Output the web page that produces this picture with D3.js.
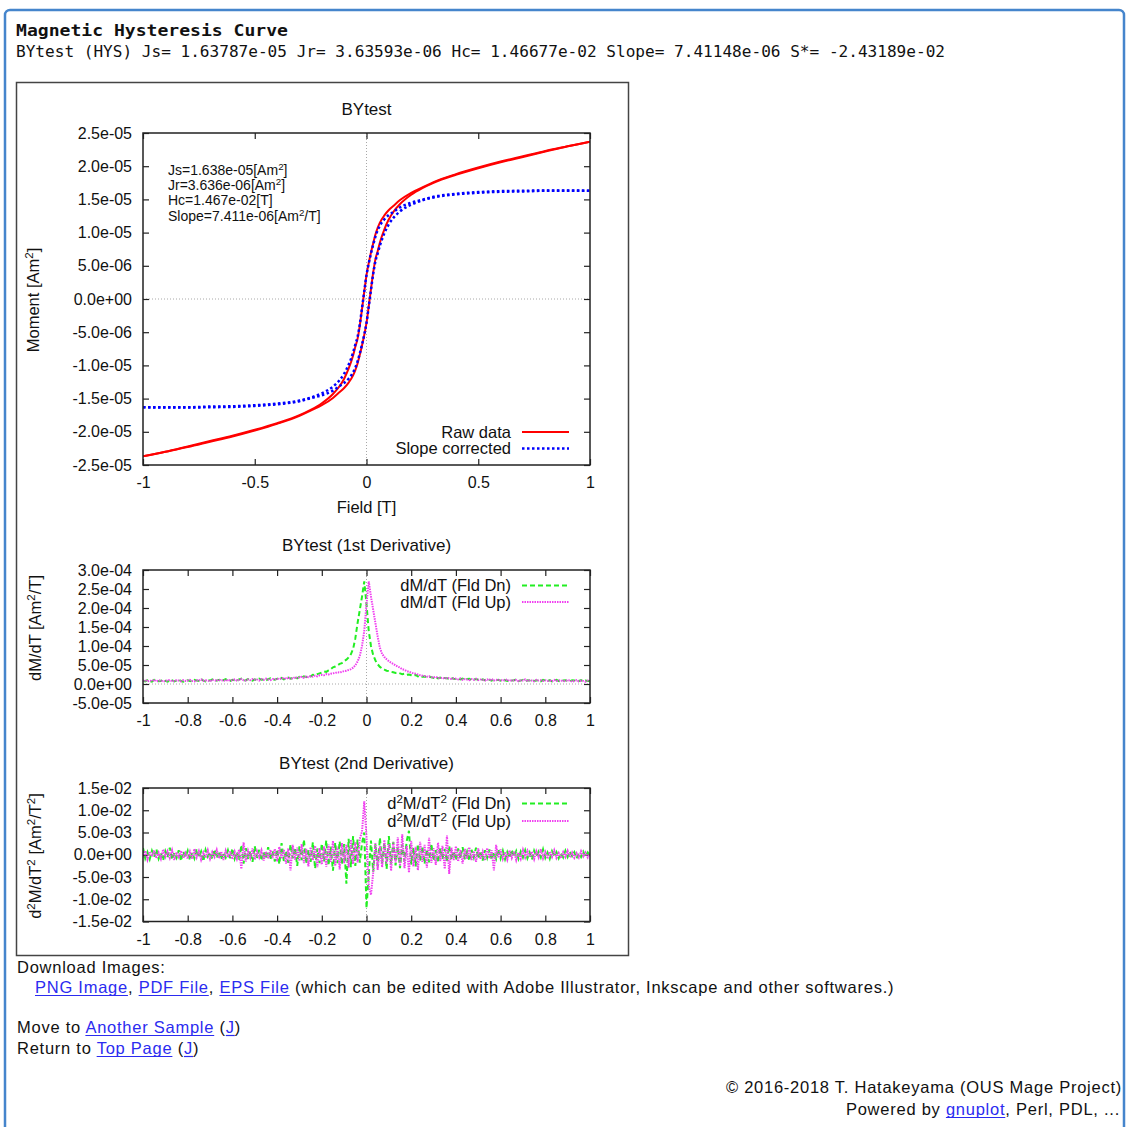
<!DOCTYPE html>
<html>
<head>
<meta charset="utf-8">
<script src="https://cdn.jsdelivr.net/npm/d3@7"></script>
<style>
  html, body { margin: 0; padding: 0; background: #fff; }
  svg { display: block; }
</style>
</head>
<body>
<svg id="page" width="1127" height="1127"></svg>
<script>
// ---------------- data ----------------
// hysteresis loop, field in T, moment in 1e-6 Am^2
const loopField = [-1,-0.9,-0.8,-0.7,-0.6,-0.5,-0.4,-0.3,-0.25,-0.2,-0.15,-0.12,-0.1,-0.08,-0.06,-0.05,-0.04,-0.03,-0.02,-0.01,
  0,0.01,0.02,0.03,0.04,0.05,0.06,0.08,0.1,0.12,0.15,0.2,0.25,0.3,0.4,0.5,0.6,0.7,0.8,0.9,1];
const rawDn = [-23.7,-23.0,-22.2,-21.4,-20.6,-19.7,-18.7,-17.5,-16.7,-15.7,-14.3,-13.1,-12.0,-10.5,-8.5,-7.2,-6.0,-4.0,-1.5,1.1,
  3.6,5.4,7.0,8.4,9.7,10.7,11.5,12.6,13.4,14.0,14.9,16.0,16.8,17.6,18.8,19.8,20.7,21.5,22.3,23.0,23.7];
const rawUp = [-23.7,-23.0,-22.3,-21.5,-20.7,-19.8,-18.8,-17.6,-16.8,-16.0,-14.9,-14.0,-13.4,-12.6,-11.5,-10.7,-9.7,-8.4,-7.0,-5.4,
  -3.6,-1.1,1.5,4.0,6.0,7.2,8.5,10.5,12.0,13.1,14.3,15.7,16.7,17.5,18.7,19.7,20.6,21.4,22.2,23.0,23.7];
const corDn = [-16.3,-16.3,-16.3,-16.2,-16.15,-16.0,-15.75,-15.3,-14.85,-14.2,-13.2,-12.2,-11.25,-9.9,-8.05,-6.85,-5.7,-3.8,-1.35,1.15,
  3.6,5.35,6.85,8.2,9.4,10.35,11.05,12.0,12.65,13.1,13.8,14.5,14.95,15.4,15.85,16.1,16.25,16.3,16.35,16.35,16.3];
const corUp = [-16.3,-16.35,-16.35,-16.3,-16.25,-16.1,-15.85,-15.4,-14.95,-14.5,-13.8,-13.1,-12.65,-12.0,-11.05,-10.35,-9.4,-8.2,-6.85,-5.35,
  -3.6,-1.15,1.35,3.8,5.7,6.85,8.05,9.9,11.25,12.2,13.2,14.2,14.85,15.3,15.75,16.0,16.15,16.2,16.3,16.3,16.3];

// derivative curves sampled every 0.01 T from -1 to 1
const derivField = d3.range(-100, 101).map(i => i / 100);
// 1st derivative, 1e-5 Am^2/T
const dmDn = [
  0.9,0.7,1.0,0.8,0.6,1.1,0.9,0.7,0.8,1.2,0.8,0.6,0.9,1.0,0.7,0.9,1.1,0.8,0.6,0.9,
  1.0,0.8,0.7,1.1,0.9,0.8,1.3,0.9,0.7,1.0,0.9,1.2,0.8,0.9,1.1,0.7,1.0,1.3,0.9,0.8,
  1.1,1.0,0.8,1.2,1.4,0.9,1.0,1.3,1.1,0.9,1.2,1.0,1.4,1.1,1.2,0.9,1.3,1.5,1.2,1.1,
  1.4,1.3,1.6,1.2,1.5,1.7,1.4,1.6,1.8,1.5,1.9,1.7,2.0,1.8,2.2,2.0,2.4,2.3,2.6,2.8,
  3.0,3.3,3.2,3.6,3.9,4.4,4.6,4.9,5.3,5.5,6.0,6.4,7.0,7.8,9.2,12.0,16.0,19.5,23.0,27.0,
  21.0,14.0,10.0,7.6,6.2,5.2,4.5,4.1,3.8,3.5,3.4,3.2,3.1,2.9,3.0,2.8,2.6,2.7,2.4,2.5,
  2.3,2.1,2.4,2.0,2.2,1.9,2.0,1.7,1.9,1.8,1.6,1.8,1.5,1.7,1.4,1.6,1.5,1.3,1.6,1.4,
  1.3,1.5,1.2,1.4,1.1,1.3,1.4,1.0,1.2,1.3,1.1,0.9,1.2,1.0,1.3,1.1,0.9,1.2,1.0,1.1,
  0.9,1.2,1.0,0.8,1.1,0.9,1.0,1.2,0.8,0.9,1.1,0.7,1.0,0.9,1.2,0.8,0.9,1.0,0.7,1.1,
  0.9,0.8,1.0,0.7,0.9,1.1,0.8,0.6,0.9,1.0,0.8,0.7,1.0,0.9,0.6,0.8,1.0,0.7,0.9,0.8,
  0.8];
const dmUp = [
  0.8,1.0,0.7,0.9,0.8,1.1,0.7,0.9,1.0,0.6,0.8,0.9,1.1,0.7,0.8,1.0,0.9,0.7,1.0,0.8,
  0.9,1.1,0.8,0.7,1.0,0.9,1.2,0.8,1.0,0.9,0.7,1.1,1.0,0.8,1.2,0.9,1.0,0.8,1.1,0.9,
  1.0,1.2,0.9,1.1,1.3,1.0,0.9,1.2,1.0,1.3,1.1,1.2,0.9,1.3,1.1,1.4,1.2,1.0,1.3,1.2,
  1.4,1.3,1.5,1.6,1.3,1.7,1.5,1.4,1.8,1.6,1.7,1.9,1.6,2.0,1.8,2.1,1.9,2.2,2.0,2.3,
  2.4,2.3,2.6,2.5,2.7,2.8,2.9,3.1,3.0,3.2,3.4,3.5,3.7,3.9,4.3,4.9,5.9,7.4,10.0,14.0,
  21.0,27.0,23.0,19.5,16.0,12.5,9.5,7.9,7.1,6.5,6.0,5.6,5.3,4.9,4.6,4.3,3.9,3.7,3.4,3.2,
  3.0,2.8,2.7,2.5,2.3,2.2,2.1,1.9,2.0,1.8,1.7,1.9,1.6,1.5,1.7,1.4,1.6,1.5,1.3,1.5,
  1.4,1.2,1.5,1.1,1.3,1.2,1.0,1.3,1.1,1.4,1.0,1.2,1.1,0.9,1.2,1.0,1.3,0.9,1.1,1.0,
  1.1,0.9,1.0,1.2,0.8,1.0,0.9,1.1,0.7,1.0,0.9,1.2,0.8,1.0,0.9,0.7,1.1,0.9,1.0,0.8,
  1.0,0.8,0.9,0.7,1.1,0.8,0.9,1.0,0.7,0.8,1.0,0.9,0.6,0.8,1.0,0.7,0.9,0.8,0.6,0.9,
  0.7];
// 2nd derivative, 1e-3 Am^2/T^2
const d2mDn = [
  1.5,-0.8,0.6,-1.0,0.9,-0.5,1.2,-0.9,0.4,-1.3,0.8,-0.6,1.6,-1.1,0.5,-0.7,1.0,-1.4,0.7,-0.5,
  0.9,-1.2,0.5,-0.8,1.3,-0.6,0.7,-1.5,1.1,-0.4,0.6,-0.9,1.2,-0.7,0.8,-1.1,0.5,-0.6,1.0,-0.8,
  1.4,-0.9,0.6,-1.2,2.2,-2.0,1.5,-1.0,0.8,-1.6,1.9,-0.7,1.1,-1.3,0.6,-0.9,1.7,-1.1,0.8,-1.5,
  1.2,-2.1,2.6,-1.4,0.9,-1.8,2.3,-0.8,1.6,-2.5,1.9,-1.2,3.4,-2.0,1.1,-1.6,2.8,-3.1,1.4,-1.9,
  2.5,-1.5,3.2,-2.4,1.8,-3.6,2.7,-1.9,3.0,-2.2,2.4,-6.5,3.6,-2.8,4.2,-2.5,3.4,-1.8,2.6,5.0,
  -12.0,-4.5,3.2,-3.8,2.4,-2.6,3.8,-1.9,2.7,-3.2,4.2,-2.0,2.9,-2.4,1.8,-3.0,2.3,-1.5,3.1,5.4,
  -2.2,1.6,-2.6,2.4,-1.4,1.9,-2.0,1.2,-1.7,2.5,-1.3,1.0,-1.8,1.5,-0.9,1.3,-1.6,2.0,-1.1,0.8,
  -1.2,1.4,-0.8,1.7,-1.0,0.7,-1.4,1.1,-0.6,1.6,-0.9,0.8,-1.3,1.0,-0.7,1.2,-1.1,0.6,-0.9,1.3,
  -0.8,0.9,-1.0,0.6,-0.7,1.1,-0.5,0.8,-0.9,0.7,-0.6,1.0,-0.8,0.5,-1.1,0.9,-0.4,0.7,-0.6,1.2,
  -0.7,0.5,-0.9,0.8,-0.4,0.6,-0.8,0.4,-0.6,0.9,-0.5,0.7,-0.3,0.6,-0.8,0.4,-0.5,0.7,-0.4,0.5,
  -0.3];
const d2mUp = [
  -0.6,0.9,-1.1,0.7,-0.4,1.0,-0.8,0.5,-0.9,1.2,-0.5,0.8,-0.7,1.0,-1.2,0.6,-0.5,0.9,-0.8,0.4,
  -0.9,0.7,-1.0,1.3,-0.6,0.8,-1.1,0.5,-0.7,1.0,-0.9,0.6,-0.5,1.1,-0.8,0.7,-1.2,0.9,-0.6,0.8,
  -1.0,0.7,-0.9,1.2,-3.2,2.8,-1.5,0.9,-0.7,1.4,-1.1,0.8,-0.6,1.0,-1.3,0.7,-0.9,1.1,-0.8,1.3,
  -1.5,1.8,-0.9,1.2,-2.0,1.4,-3.5,2.2,-1.1,1.6,-1.4,2.4,-1.9,1.3,-2.6,1.7,-1.2,2.0,-2.8,1.5,
  -2.2,1.9,-2.7,2.3,-1.6,3.1,-2.5,1.8,-3.3,2.6,-1.9,2.2,-2.9,3.4,-2.1,2.8,-1.7,3.6,5.2,12.0,
  4.0,-7.0,-9.0,-4.0,2.6,-3.4,1.9,-2.8,3.3,-2.0,2.4,-3.6,2.8,-1.7,3.9,-2.5,4.6,-3.0,2.0,-4.0,
  3.1,-2.6,1.8,-3.5,2.9,-1.6,2.2,-2.9,3.8,-1.8,1.5,-2.3,2.7,-1.4,2.0,-3.2,4.3,-4.3,1.6,-1.2,
  1.9,-1.5,1.1,-2.0,1.3,-0.9,1.7,-1.2,0.8,-1.6,1.4,-1.0,0.7,-1.3,1.5,-0.8,1.0,-3.5,2.2,-0.7,
  1.2,-0.9,0.6,-1.1,1.0,-0.7,0.8,-1.2,0.5,-0.9,1.1,-0.6,0.9,-0.5,0.7,-1.0,0.8,-0.6,1.3,-0.8,
  0.6,-0.9,0.7,-0.5,1.0,-0.7,0.4,-0.8,0.6,-0.5,0.9,-0.6,0.5,-0.7,0.4,-0.6,0.8,-0.4,0.5,-0.6,
  0.4];

// ticks
const loopXTicks = [-1, -0.5, 0, 0.5, 1];
const derivXTicks = [-1, -0.8, -0.6, -0.4, -0.2, 0, 0.2, 0.4, 0.6, 0.8, 1];
const momentTicks = [-25, -20, -15, -10, -5, 0, 5, 10, 15, 20, 25];   // x1e-6
const dmTicks = [-5, 0, 5, 10, 15, 20, 25, 30];                       // x1e-5
const d2mTicks = [-15, -10, -5, 0, 5, 10, 15];                        // x1e-3

const paramLines = ["Js=1.638e-05[Am^2]", "Jr=3.636e-06[Am^2]", "Hc=1.467e-02[T]", "Slope=7.411e-06[Am^2/T]"];

// ---------------- drawing ----------------
const SANS = '"Liberation Sans", Arial, Helvetica, sans-serif';
const MONO = '"DejaVu Sans Mono", "Liberation Mono", monospace';
const svg = d3.select("#page");

const L = 143, R = 590;
const x = d3.scaleLinear().domain([-1, 1]).range([L, R]);

function fmtE(v) {
  return v.toExponential(1).replace(/e([+-])(\d+)$/, (m, s, d) => "e" + s + (d.length < 2 ? "0" + d : d));
}

// text with ^x / ^{xy} superscripts
function rich(text, str, fs) {
  const parts = str.split(/(\^\{[^}]*\}|\^.)/).filter(s => s.length);
  let up = false;
  parts.forEach(p => {
    if (p[0] === "^") {
      const t = p[1] === "{" ? p.slice(2, -1) : p.slice(1);
      text.append("tspan").attr("dy", -fs * 0.36).attr("font-size", fs * 0.7).text(t);
      up = true;
    } else {
      const ts = text.append("tspan").text(p);
      if (up) { ts.attr("dy", fs * 0.36); up = false; }
    }
  });
  return text;
}

// page frame
svg.append("rect").attr("x", 5).attr("y", 10).attr("width", 1119).attr("height", 1135).attr("rx", 5)
  .attr("fill", "none").attr("stroke", "#4585cc").attr("stroke-width", 2.5);

svg.append("text").attr("x", 16).attr("y", 36).attr("font-family", MONO).attr("font-weight", "bold")
  .attr("font-size", 16).attr("textLength", 272).attr("lengthAdjust", "spacingAndGlyphs").attr("fill", "#111")
  .text("Magnetic Hysteresis Curve");
svg.append("text").attr("x", 16).attr("y", 57).attr("font-family", MONO)
  .attr("font-size", 16).attr("textLength", 929).attr("lengthAdjust", "spacingAndGlyphs").attr("fill", "#111")
  .text("BYtest (HYS) Js= 1.63787e-05 Jr= 3.63593e-06 Hc= 1.46677e-02 Slope= 7.41148e-06 S*= -2.43189e-02");

// image frame
svg.append("rect").attr("x", 16.5).attr("y", 82.5).attr("width", 612).attr("height", 873)
  .attr("fill", "#fff").attr("stroke", "#444").attr("stroke-width", 1.5);

function panel(p, id) {
  const y = d3.scaleLinear().domain(p.yDomain).range([p.bottom, p.top]);
  const g = svg.append("g");
  g.append("clipPath").attr("id", id).append("rect")
    .attr("x", L).attr("y", p.top).attr("width", R - L).attr("height", p.bottom - p.top);

  // zero axes
  g.append("line").attr("x1", L).attr("x2", R).attr("y1", y(0)).attr("y2", y(0))
    .attr("stroke", "#a8a8a8").attr("stroke-dasharray", "1,2");
  g.append("line").attr("x1", x(0)).attr("x2", x(0)).attr("y1", p.top).attr("y2", p.bottom)
    .attr("stroke", "#a8a8a8").attr("stroke-dasharray", "1,2");

  const tk = 6;
  const axes = [
    [d3.axisBottom(x).tickValues(p.xTicks).tickFormat(d => String(d)).tickPadding(12), `translate(0,${p.bottom})`],
    [d3.axisTop(x).tickValues(p.xTicks).tickFormat(() => ""), `translate(0,${p.top})`],
    [d3.axisLeft(y).tickValues(p.yTicks).tickFormat(d => fmtE(d * p.unit)).tickPadding(11), `translate(${L},0)`],
    [d3.axisRight(y).tickValues(p.yTicks).tickFormat(() => ""), `translate(${R},0)`]
  ];
  axes.forEach(([ax, tr]) => {
    g.append("g").attr("transform", tr).call(ax.tickSize(-tk).tickSizeOuter(0))
      .attr("font-family", SANS).attr("font-size", 16)
      .call(s => s.select(".domain").remove())
      .call(s => s.selectAll(".tick line").attr("stroke", "#222").attr("stroke-width", 1.2))
      .call(s => s.selectAll(".tick text").attr("fill", "#111"));
  });

  const lines = g.append("g").attr("clip-path", `url(#${id})`);
  p.series.forEach(s => {
    const line = d3.line().x((d, i) => x(s.xs[i])).y(d => y(d)).curve(s.curve || d3.curveLinear);
    lines.append("path").datum(s.ys).attr("d", line).attr("fill", "none")
      .attr("stroke", s.color).attr("stroke-width", s.width).attr("stroke-dasharray", s.dash || null);
  });

  g.append("rect").attr("x", L).attr("y", p.top).attr("width", R - L).attr("height", p.bottom - p.top)
    .attr("fill", "none").attr("stroke", "#222").attr("stroke-width", 1.5);

  // title
  g.append("text").attr("x", x(0)).attr("y", p.titleY).attr("text-anchor", "middle")
    .attr("font-family", SANS).attr("font-size", 17).attr("fill", "#111").text(p.title);
  // y label
  rich(g.append("text").attr("transform", `translate(${p.ylabX},${p.ylabY}) rotate(-90)`)
    .attr("text-anchor", "middle").attr("font-family", SANS).attr("font-size", 16.5).attr("fill", "#111"), p.ylabel, 16.5);
  // legend
  p.series.forEach(s => {
    if (!s.label) return;
    rich(g.append("text").attr("x", 511).attr("y", s.legY + 5.8).attr("text-anchor", "end")
      .attr("font-family", SANS).attr("font-size", 16.5).attr("fill", "#111"), s.label, 16.5);
    g.append("line").attr("x1", 522).attr("x2", 569).attr("y1", s.legY).attr("y2", s.legY)
      .attr("stroke", s.color).attr("stroke-width", s.width).attr("stroke-dasharray", s.dash || null);
  });
  return { g, y };
}

const RED = "#ff0000", BLUE = "#0000ff", GREEN = "#22ee22", PINK = "#f040f0";

const main = panel({
  top: 133, bottom: 465, yDomain: [-25, 25], unit: 1e-6, yTicks: momentTicks, xTicks: loopXTicks,
  title: "BYtest", titleY: 115, ylabel: "Moment [Am^2]", ylabX: 39, ylabY: 300,
  series: [
    { xs: loopField, ys: rawDn, color: RED, width: 2, curve: d3.curveMonotoneX, label: "Raw data", legY: 432 },
    { xs: loopField, ys: rawUp, color: RED, width: 2, curve: d3.curveMonotoneX },
    { xs: loopField, ys: corDn, color: BLUE, width: 2.5, dash: "2.5,2.5", curve: d3.curveMonotoneX, label: "Slope corrected", legY: 448.5 },
    { xs: loopField, ys: corUp, color: BLUE, width: 2.5, dash: "2.5,2.5", curve: d3.curveMonotoneX }
  ]
}, "clipMain");
main.g.append("text").attr("x", x(0)).attr("y", 513).attr("text-anchor", "middle")
  .attr("font-family", SANS).attr("font-size", 16.5).attr("fill", "#111").text("Field [T]");
paramLines.forEach((t, i) => {
  rich(main.g.append("text").attr("x", 168).attr("y", 175 + i * 15.2)
    .attr("font-family", SANS).attr("font-size", 14).attr("fill", "#111"), t, 14);
});

panel({
  top: 570, bottom: 703, yDomain: [-5, 30], unit: 1e-5, yTicks: dmTicks, xTicks: derivXTicks,
  title: "BYtest (1st Derivative)", titleY: 551, ylabel: "dM/dT [Am^2/T]", ylabX: 41, ylabY: 628,
  series: [
    { xs: derivField, ys: dmDn, color: GREEN, width: 2, dash: "5,3", label: "dM/dT (Fld Dn)", legY: 585.5 },
    { xs: derivField, ys: dmUp, color: PINK, width: 2, dash: "1.5,1", label: "dM/dT (Fld Up)", legY: 602 }
  ]
}, "clipD1");

panel({
  top: 788, bottom: 921.5, yDomain: [-15, 15], unit: 1e-3, yTicks: d2mTicks, xTicks: derivXTicks,
  title: "BYtest (2nd Derivative)", titleY: 769, ylabel: "d^2M/dT^2 [Am^2/T^2]", ylabX: 41, ylabY: 856,
  series: [
    { xs: derivField, ys: d2mDn, color: GREEN, width: 2, dash: "5,3", label: "d^2M/dT^2 (Fld Dn)", legY: 803.5 },
    { xs: derivField, ys: d2mUp, color: PINK, width: 2, dash: "1.5,1", label: "d^2M/dT^2 (Fld Up)", legY: 821 }
  ]
}, "clipD2");

// ---------------- page text below the image ----------------
const LINK = "#2b2bf0";
function pageLine(xp, yb, parts, anchor) {
  const t = svg.append("text").attr("x", xp).attr("y", yb).attr("font-family", SANS).attr("font-size", 16.5)
    .attr("letter-spacing", 0.75).attr("fill", "#111").attr("text-anchor", anchor || "start");
  const spans = parts.map(([s, link]) => ({ node: t.append("tspan").attr("fill", link ? LINK : "#111").text(s).node(), link }));
  spans.forEach(sp => {
    if (!sp.link) return;
    const x0 = sp.node.getStartPositionOfChar(0).x;
    const w = sp.node.getComputedTextLength();
    svg.append("line").attr("x1", x0).attr("x2", x0 + w).attr("y1", yb + 2.5).attr("y2", yb + 2.5)
      .attr("stroke", LINK).attr("stroke-width", 1.2);
  });
}
pageLine(17, 973, [["Download Images:"]]);
pageLine(35, 993, [["PNG Image", 1], [", "], ["PDF File", 1], [", "], ["EPS File", 1],
  [" (which can be edited with Adobe Illustrator, Inkscape and other softwares.)"]]);
pageLine(17, 1033, [["Move to "], ["Another Sample", 1], [" ("], ["J", 1], [")"]]);
pageLine(17, 1054, [["Return to "], ["Top Page", 1], [" ("], ["J", 1], [")"]]);
pageLine(1122, 1093, [["\u00a9 2016-2018 T. Hatakeyama (OUS Mage Project)"]], "end");
pageLine(1120, 1115, [["Powered by "], ["gnuplot", 1], [", Perl, PDL, ..."]], "end");
</script>
</body>
</html>
